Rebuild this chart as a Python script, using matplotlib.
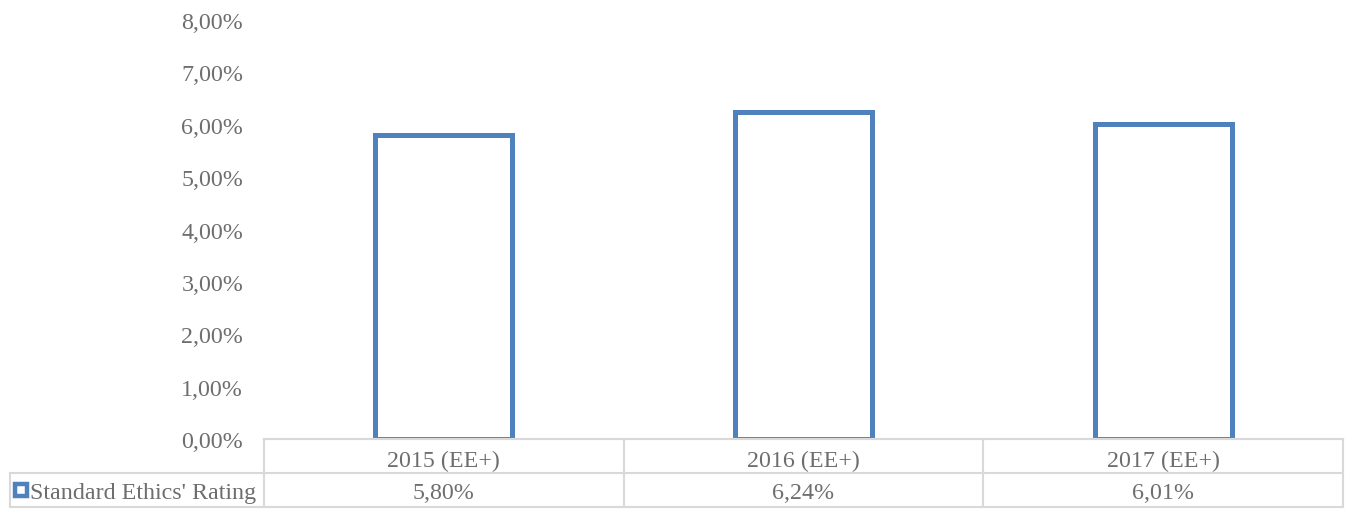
import matplotlib
matplotlib.use("Agg")
import matplotlib.pyplot as plt
from matplotlib.patches import Rectangle

categories = ["2015 (EE+)", "2016 (EE+)", "2017 (EE+)"]
values = [5.80, 6.24, 6.01]
series_name = "Standard Ethics' Rating"
yticks = [0, 1, 2, 3, 4, 5, 6, 7, 8]

BLUE = "#4F81BD"
GRID = "#D9D9D9"
TXT = "#6E6E6E"
FS = 17.3

plt.rcParams["font.family"] = ["Liberation Serif", "DejaVu Serif"]

W, H = 1348, 510
fig = plt.figure(figsize=(W / 100, H / 100), dpi=100)

# plot area (pixels)
px0, px1, py_top, py_bot = 264, 1343, 21, 440
ax = fig.add_axes([px0 / W, 1 - py_bot / H, (px1 - px0) / W, (py_bot - py_top) / H])
n = len(categories)
ax.bar(range(n), values, width=0.38, facecolor="white", edgecolor=BLUE, linewidth=3.6)
ax.set_xlim(-0.5, n - 0.5)
ax.set_ylim(0, 8)
ax.set_yticks(yticks)
ax.set_yticklabels([f"{v:.2f}%".replace(".", ",") for v in yticks], fontsize=FS, color=TXT)
ax.tick_params(axis="y", length=0, pad=15)
ax.set_xticks([])
for s in ["top", "right", "left"]:
    ax.spines[s].set_visible(False)
ax.spines["bottom"].set_color(GRID)
ax.spines["bottom"].set_linewidth(1.5)

# data table below the plot (pixel coordinates)
tx0, ty_mid, ty_bot = 10, 474, 508
tax = fig.add_axes([tx0 / W, 1 - ty_bot / H, (px1 - tx0) / W, (ty_bot - py_bot) / H])
tax.set_xlim(tx0, px1)
tax.set_ylim(ty_bot, py_bot)
tax.axis("off")
colw = (px1 - px0) / n
lw = 1.5
tax.plot([px0, px1], [py_bot, py_bot], color=GRID, lw=lw, clip_on=False)
tax.plot([tx0, px1], [ty_mid, ty_mid], color=GRID, lw=lw, clip_on=False)
tax.plot([tx0, px1], [ty_bot, ty_bot], color=GRID, lw=lw, clip_on=False)
tax.plot([tx0, tx0], [ty_mid, ty_bot], color=GRID, lw=lw, clip_on=False)
for i in range(n + 1):
    x = px0 + i * colw
    tax.plot([x, x], [py_bot, ty_bot], color=GRID, lw=lw, clip_on=False)
row1_y = (py_bot + ty_mid) / 2 + 4
row2_y = (ty_mid + ty_bot) / 2 + 3
for i, (c, v) in enumerate(zip(categories, values)):
    xc = px0 + (i + 0.5) * colw
    tax.text(xc, row1_y, c, ha="center", va="center", fontsize=FS, color=TXT)
    tax.text(xc, row2_y, f"{v:.2f}%".replace(".", ","), ha="center",
             va="center", fontsize=FS, color=TXT)
tax.add_patch(Rectangle((15, 484.5), 11.5, 12, facecolor="white", edgecolor=BLUE, lw=3.2, clip_on=False))
tax.text(30, row2_y, series_name, ha="left", va="center", fontsize=FS, color=TXT)

fig.savefig("out.png", dpi=100)
